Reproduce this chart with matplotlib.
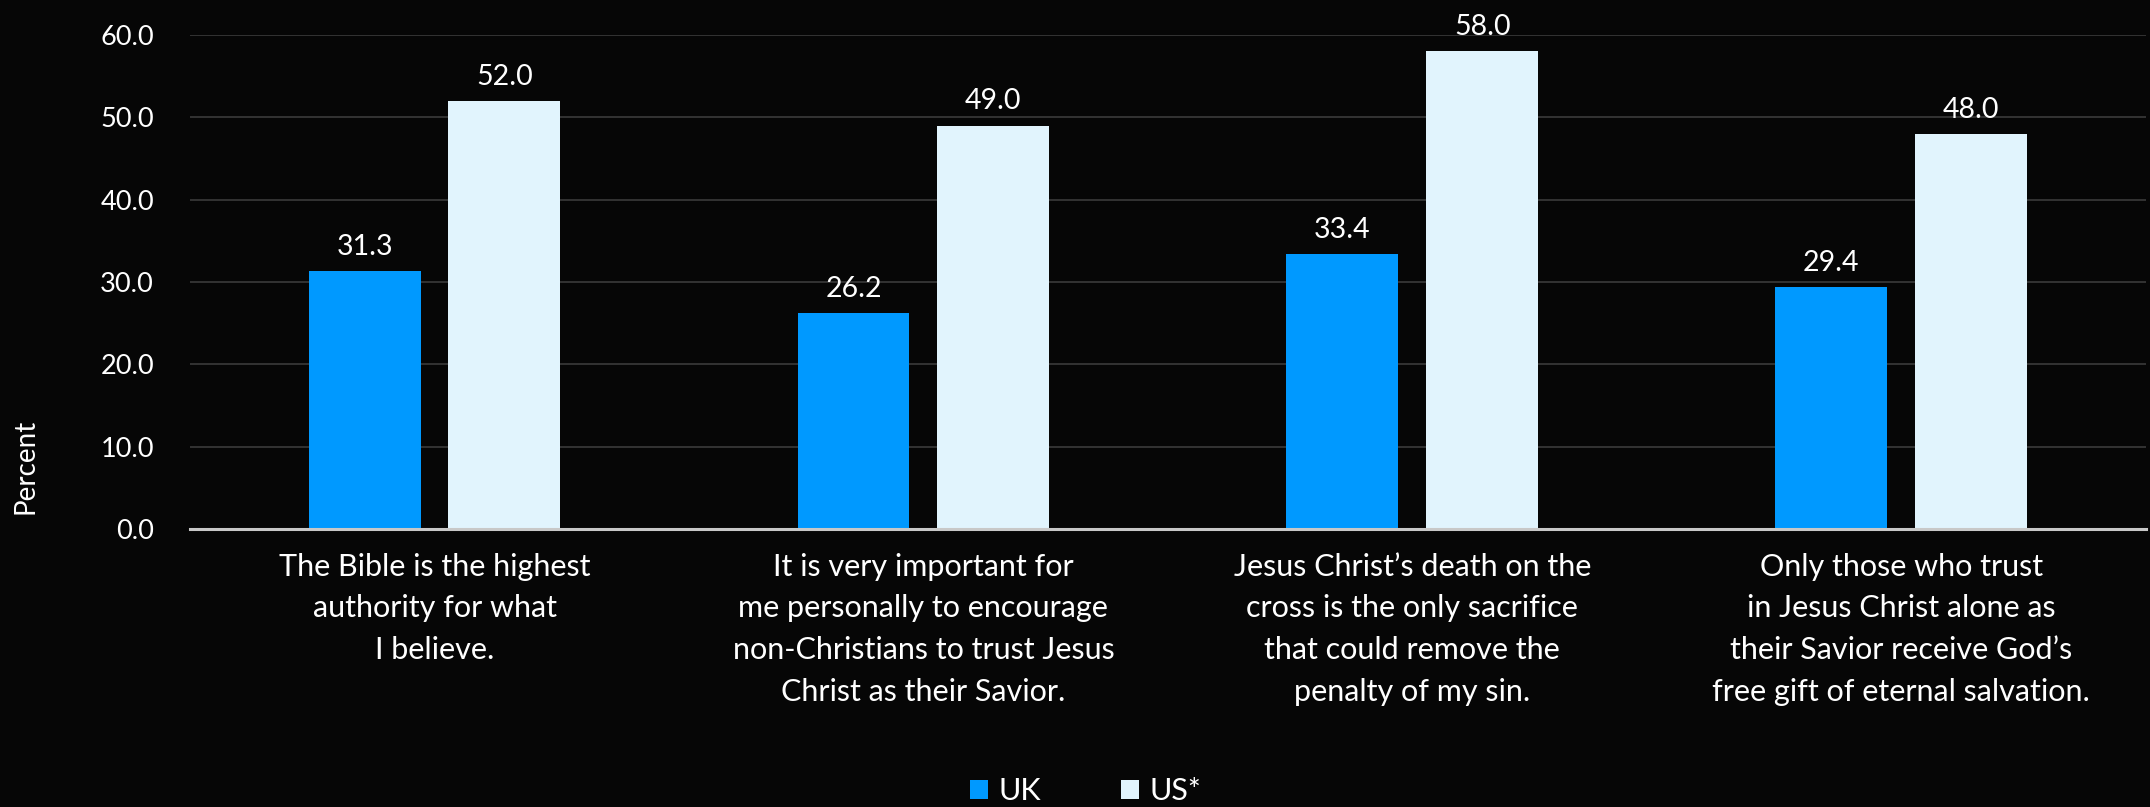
import numpy as np
import matplotlib.pyplot as plt

# Datos del gráfico
categories = [
    "The Bible is the highest\nauthority for what\nI believe.",
    "It is very important for\nme personally to encourage\nnon-Christians to trust Jesus\nChrist as their Savior.",
    "Jesus Christ\u2019s death on the\ncross is the only sacrifice\nthat could remove the\npenalty of my sin.",
    "Only those who trust\nin Jesus Christ alone as\ntheir Savior receive God\u2019s\nfree gift of eternal salvation.",
]
uk_values = [31.3, 26.2, 33.4, 29.4]
us_values = [52.0, 49.0, 58.0, 48.0]
series_names = ["UK", "US*"]
y_ticks = [0, 10, 20, 30, 40, 50, 60]

plt.rcParams['font.family'] = ['Lato', 'DejaVu Sans']
bg = '#060606'

fig = plt.figure(figsize=(21.5, 8.07), dpi=100, facecolor=bg)
ax = fig.add_axes([0.0884, 0.3445, 0.9096, 0.6121], facecolor=bg)

x = np.arange(len(categories))
w = 0.229
off = 0.143
b1 = ax.bar(x - off, uk_values, w, color='#0099FF', label=series_names[0], zorder=3)
b2 = ax.bar(x + off, us_values, w, color='#E1F4FD', label=series_names[1], zorder=3)

for bars in (b1, b2):
    ax.bar_label(bars, fmt='%.1f', padding=8, color='white', fontsize=20.5)

ax.set_xlim(-0.5, len(categories) - 0.5)
ax.set_ylim(0, 60)
ax.set_yticks(y_ticks)
ax.set_yticklabels([f"{v:.1f}" for v in y_ticks], color='white', fontsize=19.5)
ax.set_xticks(x)
ax.set_xticklabels(categories, color='white', fontsize=22, linespacing=1.6)
ax.tick_params(axis='both', length=0)
ax.tick_params(axis='x', pad=17)
ax.tick_params(axis='y', pad=26)

ax.yaxis.grid(True, color='#3a3a3a', linewidth=1.2, zorder=0)
for s in ['top', 'right', 'left']:
    ax.spines[s].set_visible(False)
ax.spines['bottom'].set_color('#c8c8c8')
ax.spines['bottom'].set_linewidth(2.2)
ax.spines['bottom'].set_zorder(4)

fig.text(0.006, 0.4226, "Percent", rotation=90, color='white',
         fontsize=20, va='center', ha='left')

leg = fig.legend(loc='lower center', bbox_to_anchor=(0.505, -0.032), ncol=2,
                 frameon=False, fontsize=22, labelcolor='white',
                 handlelength=0.6, handleheight=0.6, handletextpad=0.35,
                 columnspacing=2.6)

fig.savefig('out.png', dpi=100, facecolor=bg)
